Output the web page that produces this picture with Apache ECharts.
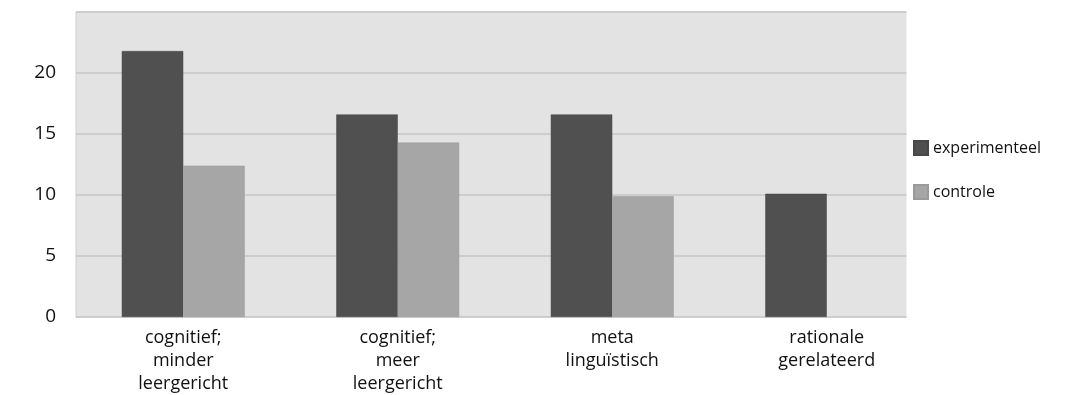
<!DOCTYPE html>
<html><head><meta charset="utf-8">
<script src="https://cdn.jsdelivr.net/npm/echarts@6/dist/echarts.min.js"></script>
<style>html,body{margin:0;padding:0;background:#fff}#c{width:1068px;height:395px}</style>
</head><body><div id="c"></div>
<script>
const categories = ["cognitief;\nminder\nleergericht", "cognitief;\nmeer\nleergericht", "meta\nlinguïstisch", "rationale\ngerelateerd"];
const seriesNames = ["experimenteel", "controle"];
const experimenteel = [21.8, 16.6, 16.6, 10.1];
const controle = [12.4, 14.3, 9.9, null];
const yTicks = [0, 5, 10, 15, 20, 25];

const chart = echarts.init(document.getElementById('c'), null, {renderer: 'canvas'});
const font = "'Open Sans', 'Noto Sans', sans-serif";
chart.setOption({
  animation: false,
  textStyle: {fontFamily: font},
  grid: {left: 76, right: 134, top: 12, bottom: 77, show: true, backgroundColor: '#e3e3e3', borderColor: '#cfcfcf', borderWidth: 1},
  graphic: [{
    type: 'rect', z: 3, silent: true,
    shape: {x: 906.5, y: 0, width: 200, height: 330},
    style: {fill: '#ffffff'}
  }],
  legend: {
    orient: 'vertical', left: 908, top: 135, itemWidth: 14, itemHeight: 14, itemGap: 28, icon: 'rect',
    textStyle: {fontSize: 16, color: '#111', fontFamily: font},
    data: seriesNames, z: 5
  },
  xAxis: {
    type: 'category', data: categories,
    axisLine: {lineStyle: {color: '#cfcfcf'}}, axisTick: {show: false},
    axisLabel: {fontSize: 18, color: '#111', lineHeight: 23, margin: 9, interval: 0, fontFamily: font}
  },
  yAxis: {
    type: 'value', min: yTicks[0], max: yTicks[yTicks.length - 1], interval: 5,
    axisLine: {show: false}, axisTick: {show: false},
    axisLabel: {fontSize: 19, color: '#111', margin: 20, showMaxLabel: false, fontFamily: font},
    splitLine: {lineStyle: {color: '#c6c6c6', width: 1.5}}
  },
  series: [
    {name: seriesNames[0], type: 'bar', data: experimenteel, barGap: '0%', barCategoryGap: '42.7%',
     itemStyle: {color: '#505050', borderColor: '#474747', borderWidth: 0.5}},
    {name: seriesNames[1], type: 'bar', data: controle,
     itemStyle: {color: '#a6a6a6', borderColor: '#9a9a9a', borderWidth: 0.5}}
  ]
});
</script></body></html>
